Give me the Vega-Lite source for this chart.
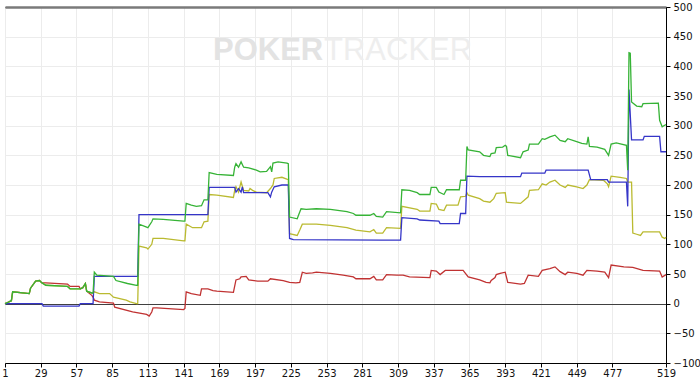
{
  "$schema": "https://vega.github.io/schema/vega-lite/v6.json",
  "width": 661,
  "height": 356,
  "autosize": {"type": "none"},
  "padding": {"left": 5, "top": 7, "right": 34, "bottom": 18},
  "background": "#ffffff",
  "config": {
    "view": {"stroke": "#000000", "strokeWidth": 1},
    "axis": {"labelFont": "DejaVu Sans", "labelFontSize": 10, "labelColor": "#111111", "gridColor": "#ececec", "gridWidth": 1, "domainColor": "#000000", "tickColor": "#000000", "tickSize": 4, "title": null, "labelOverlap": false},
    "axisX": {"labelOverlap": false, "labelFlush": false, "labelPadding": 1},
    "axisY": {"labelOverlap": false, "labelFlush": false, "labelPadding": 3}
  },
  "datasets": {
    "net": [
      {"h":1,"v":0},{"h":3,"v":2},{"h":6,"v":5},{"h":7,"v":20},{"h":20,"v":17},{"h":21,"v":26},{"h":25,"v":38},{"h":28,"v":39},{"h":30,"v":35},{"h":33,"v":31},{"h":50,"v":29},{"h":52,"v":25},{"h":60,"v":25},{"h":62,"v":27},{"h":64,"v":34},{"h":65,"v":21},{"h":69,"v":18},{"h":70,"v":18},{"h":71,"v":53},{"h":73,"v":48},{"h":86,"v":46},{"h":88,"v":39},{"h":97,"v":34},{"h":104,"v":31},{"h":105,"v":31},{"h":106,"v":134},{"h":112,"v":129},{"h":113,"v":128},{"h":116,"v":138},{"h":117,"v":143},{"h":125,"v":142},{"h":141,"v":139},{"h":142,"v":139},{"h":143,"v":169},{"h":147,"v":166},{"h":151,"v":164},{"h":155,"v":165},{"h":157,"v":175},{"h":160,"v":175},{"h":161,"v":221},{"h":167,"v":218},{"h":180,"v":216},{"h":181,"v":230},{"h":182,"v":236},{"h":184,"v":230},{"h":186,"v":239},{"h":188,"v":230},{"h":192,"v":229},{"h":198,"v":225},{"h":201,"v":222},{"h":206,"v":223},{"h":209,"v":231},{"h":210,"v":222},{"h":211,"v":237},{"h":215,"v":239},{"h":222,"v":237},{"h":223,"v":236},{"h":224,"v":146},{"h":230,"v":143},{"h":231,"v":149},{"h":233,"v":160},{"h":237,"v":159},{"h":245,"v":160},{"h":256,"v":159},{"h":269,"v":155},{"h":274,"v":152},{"h":276,"v":149},{"h":287,"v":149},{"h":290,"v":152},{"h":292,"v":147},{"h":297,"v":146},{"h":300,"v":155},{"h":311,"v":153},{"h":312,"v":192},{"h":318,"v":191},{"h":324,"v":187},{"h":326,"v":184},{"h":334,"v":184},{"h":335,"v":196},{"h":339,"v":196},{"h":341,"v":188},{"h":345,"v":184},{"h":347,"v":192},{"h":357,"v":192},{"h":358,"v":208},{"h":362,"v":208},{"h":363,"v":265},{"h":364,"v":259},{"h":373,"v":256},{"h":376,"v":250},{"h":381,"v":248},{"h":382,"v":253},{"h":385,"v":254},{"h":386,"v":263},{"h":391,"v":264},{"h":393,"v":267},{"h":394,"v":265},{"h":395,"v":250},{"h":405,"v":246},{"h":407,"v":256},{"h":411,"v":259},{"h":412,"v":269},{"h":419,"v":269},{"h":422,"v":278},{"h":424,"v":277},{"h":428,"v":281},{"h":432,"v":284},{"h":436,"v":275},{"h":440,"v":273},{"h":442,"v":278},{"h":449,"v":273},{"h":453,"v":270},{"h":457,"v":269},{"h":458,"v":281},{"h":459,"v":265},{"h":465,"v":264},{"h":471,"v":260},{"h":474,"v":250},{"h":476,"v":269},{"h":480,"v":271},{"h":488,"v":267},{"h":489,"v":225},{"h":490,"v":423},{"h":491,"v":422},{"h":492,"v":340},{"h":496,"v":333},{"h":500,"v":332},{"h":501,"v":337},{"h":513,"v":338},{"h":514,"v":309},{"h":516,"v":298},{"h":519,"v":302}
    ],
    "showdown": [
      {"h":1,"v":0},{"h":30,"v":0},{"h":31,"v":-4},{"h":59,"v":-4},{"h":60,"v":0},{"h":70,"v":0},{"h":71,"v":46},{"h":105,"v":46},{"h":106,"v":150},{"h":160,"v":150},{"h":161,"v":196},{"h":181,"v":196},{"h":182,"v":188},{"h":184,"v":194},{"h":186,"v":188},{"h":187,"v":197},{"h":188,"v":187},{"h":207,"v":187},{"h":209,"v":180},{"h":210,"v":188},{"h":212,"v":197},{"h":218,"v":200},{"h":223,"v":200},{"h":224,"v":110},{"h":227,"v":108},{"h":296,"v":107},{"h":311,"v":107},{"h":312,"v":145},{"h":324,"v":143},{"h":326,"v":141},{"h":341,"v":139},{"h":342,"v":135},{"h":357,"v":135},{"h":358,"v":152},{"h":362,"v":152},{"h":363,"v":215},{"h":373,"v":214},{"h":405,"v":214},{"h":406,"v":220},{"h":424,"v":220},{"h":425,"v":225},{"h":458,"v":225},{"h":460,"v":209},{"h":473,"v":209},{"h":474,"v":205},{"h":488,"v":205},{"h":489,"v":164},{"h":490,"v":361},{"h":492,"v":276},{"h":501,"v":276},{"h":502,"v":282},{"h":514,"v":282},{"h":515,"v":256},{"h":519,"v":256}
    ],
    "allin": [
      {"h":1,"v":0},{"h":3,"v":2},{"h":6,"v":5},{"h":7,"v":20},{"h":20,"v":17},{"h":21,"v":26},{"h":25,"v":38},{"h":28,"v":39},{"h":30,"v":35},{"h":33,"v":31},{"h":50,"v":29},{"h":52,"v":25},{"h":60,"v":25},{"h":62,"v":27},{"h":64,"v":34},{"h":65,"v":21},{"h":69,"v":18},{"h":70,"v":18},{"h":71,"v":20},{"h":75,"v":17},{"h":83,"v":17},{"h":86,"v":11},{"h":96,"v":6},{"h":99,"v":3},{"h":104,"v":0},{"h":105,"v":0},{"h":106,"v":97},{"h":112,"v":94},{"h":113,"v":92},{"h":116,"v":100},{"h":117,"v":110},{"h":125,"v":110},{"h":141,"v":106},{"h":142,"v":106},{"h":143,"v":134},{"h":148,"v":128},{"h":155,"v":128},{"h":157,"v":138},{"h":160,"v":139},{"h":161,"v":184},{"h":167,"v":183},{"h":180,"v":179},{"h":181,"v":191},{"h":182,"v":197},{"h":184,"v":188},{"h":186,"v":205},{"h":188,"v":191},{"h":192,"v":190},{"h":193,"v":194},{"h":195,"v":191},{"h":198,"v":188},{"h":206,"v":187},{"h":209,"v":194},{"h":211,"v":200},{"h":212,"v":211},{"h":218,"v":213},{"h":223,"v":209},{"h":224,"v":118},{"h":230,"v":115},{"h":232,"v":124},{"h":234,"v":134},{"h":245,"v":134},{"h":256,"v":132},{"h":269,"v":128},{"h":276,"v":124},{"h":287,"v":121},{"h":290,"v":125},{"h":292,"v":119},{"h":297,"v":119},{"h":300,"v":128},{"h":311,"v":127},{"h":312,"v":164},{"h":324,"v":159},{"h":326,"v":156},{"h":334,"v":156},{"h":335,"v":169},{"h":339,"v":168},{"h":341,"v":159},{"h":345,"v":157},{"h":347,"v":166},{"h":356,"v":166},{"h":358,"v":180},{"h":362,"v":181},{"h":363,"v":187},{"h":364,"v":183},{"h":373,"v":177},{"h":376,"v":173},{"h":381,"v":171},{"h":384,"v":177},{"h":386,"v":186},{"h":393,"v":187},{"h":394,"v":171},{"h":405,"v":169},{"h":411,"v":180},{"h":412,"v":191},{"h":419,"v":192},{"h":422,"v":202},{"h":425,"v":200},{"h":428,"v":205},{"h":432,"v":208},{"h":436,"v":200},{"h":440,"v":196},{"h":442,"v":200},{"h":449,"v":197},{"h":454,"v":194},{"h":457,"v":200},{"h":459,"v":209},{"h":470,"v":208},{"h":473,"v":202},{"h":474,"v":197},{"h":476,"v":215},{"h":483,"v":213},{"h":488,"v":211},{"h":489,"v":205},{"h":492,"v":205},{"h":493,"v":119},{"h":496,"v":117},{"h":499,"v":115},{"h":501,"v":121},{"h":514,"v":121},{"h":516,"v":112},{"h":518,"v":110},{"h":519,"v":112}
    ],
    "nonshowdown": [
      {"h":1,"v":0},{"h":3,"v":2},{"h":6,"v":5},{"h":7,"v":20},{"h":20,"v":17},{"h":21,"v":26},{"h":25,"v":38},{"h":28,"v":39},{"h":30,"v":35},{"h":33,"v":35},{"h":50,"v":33},{"h":52,"v":29},{"h":59,"v":29},{"h":60,"v":25},{"h":62,"v":27},{"h":64,"v":34},{"h":65,"v":21},{"h":69,"v":14},{"h":70,"v":11},{"h":71,"v":6},{"h":75,"v":3},{"h":86,"v":1},{"h":87,"v":-6},{"h":101,"v":-14},{"h":112,"v":-18},{"h":114,"v":-21},{"h":116,"v":-14},{"h":117,"v":-7},{"h":120,"v":-7},{"h":141,"v":-10},{"h":142,"v":-8},{"h":143,"v":20},{"h":147,"v":17},{"h":154,"v":14},{"h":155,"v":25},{"h":160,"v":25},{"h":164,"v":22},{"h":167,"v":21},{"h":180,"v":19},{"h":182,"v":40},{"h":185,"v":42},{"h":186,"v":45},{"h":190,"v":46},{"h":192,"v":40},{"h":199,"v":38},{"h":207,"v":38},{"h":209,"v":42},{"h":219,"v":39},{"h":224,"v":36},{"h":229,"v":35},{"h":232,"v":36},{"h":234,"v":53},{"h":237,"v":51},{"h":242,"v":52},{"h":245,"v":53},{"h":256,"v":51},{"h":266,"v":48},{"h":274,"v":45},{"h":276,"v":42},{"h":287,"v":42},{"h":290,"v":46},{"h":292,"v":40},{"h":297,"v":40},{"h":300,"v":49},{"h":308,"v":48},{"h":313,"v":48},{"h":318,"v":45},{"h":334,"v":44},{"h":335,"v":56},{"h":339,"v":55},{"h":342,"v":49},{"h":346,"v":56},{"h":360,"v":56},{"h":364,"v":45},{"h":373,"v":40},{"h":378,"v":36},{"h":381,"v":35},{"h":382,"v":39},{"h":385,"v":44},{"h":386,"v":49},{"h":389,"v":51},{"h":393,"v":53},{"h":395,"v":36},{"h":405,"v":33},{"h":408,"v":34},{"h":411,"v":48},{"h":419,"v":46},{"h":422,"v":56},{"h":428,"v":59},{"h":432,"v":62},{"h":436,"v":54},{"h":440,"v":49},{"h":442,"v":53},{"h":449,"v":51},{"h":454,"v":48},{"h":457,"v":56},{"h":465,"v":55},{"h":471,"v":53},{"h":474,"v":44},{"h":476,"v":65},{"h":486,"v":62},{"h":493,"v":61},{"h":501,"v":56},{"h":514,"v":55},{"h":516,"v":45},{"h":519,"v":49}
    ],
    "watermark": [
      {"h":164,"v":410,"t":"POKER","w":"bold"},
      {"h":251,"v":410,"t":"TRACKER","w":"normal"}
    ]
  },
  "encoding": {
    "x": {"field": "h", "type": "quantitative", "scale": {"domain": [1, 519], "nice": false, "zero": false},
          "axis": {"orient": "bottom", "values": [1,29,57,85,113,141,169,197,225,253,281,309,337,365,393,421,449,477,519], "labelOverlap": false, "labelFlush": false, "grid": true}},
    "y": {"field": "v", "type": "quantitative", "scale": {"domain": [-100, 500], "nice": false, "zero": false},
          "axis": {"orient": "right", "values": [-100,-50,0,50,100,150,200,250,300,350,400,450,500], "grid": true, "labelOverlap": false,
                   "gridColor": {"condition": [{"test": "datum.value === 0", "value": "#404040"}, {"test": "datum.value === 500", "value": "#7a7a7a"}], "value": "#ececec"},
                   "gridWidth": {"condition": [{"test": "datum.value === 0", "value": 1.2}, {"test": "datum.value === 500", "value": 2.5}], "value": 1}}}
  },
  "layer": [
    {
      "data": {"name": "watermark"},
      "transform": [{"filter": "datum.w == 'bold'"}],
      "mark": {"type": "text", "align": "left", "baseline": "alphabetic", "font": "Liberation Sans", "fontSize": 31, "fontWeight": "bold", "color": "#e3e3e3"},
      "encoding": {"text": {"field": "t"}}
    },
    {
      "data": {"name": "watermark"},
      "transform": [{"filter": "datum.w == 'normal'"}],
      "mark": {"type": "text", "align": "left", "baseline": "alphabetic", "font": "Liberation Sans", "fontSize": 31, "color": "#eeeeee"},
      "encoding": {"text": {"field": "t"}}
    },
    {
      "data": {"name": "nonshowdown"},
      "mark": {"type": "line", "color": "#c03232", "strokeWidth": 1.3}
    },
    {
      "data": {"name": "allin"},
      "mark": {"type": "line", "color": "#baba30", "strokeWidth": 1.3}
    },
    {
      "data": {"name": "showdown"},
      "mark": {"type": "line", "color": "#3535c8", "strokeWidth": 1.3}
    },
    {
      "data": {"name": "net"},
      "mark": {"type": "line", "color": "#36b336", "strokeWidth": 1.3}
    }
  ]
}
